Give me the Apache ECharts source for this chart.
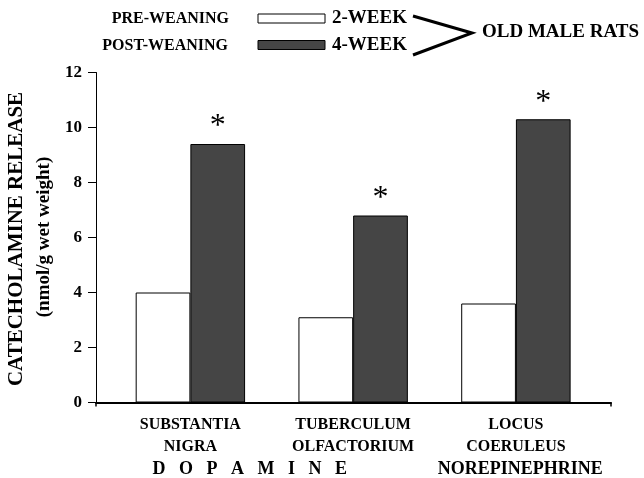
<!DOCTYPE html>
<html>
<head>
<meta charset="utf-8">
<script src="https://cdn.jsdelivr.net/npm/echarts@6/dist/echarts.min.js"></script>
<style>
html,body{margin:0;padding:0;background:#fff;}
#chart{width:644px;height:478px;}
</style>
</head>
<body>
<div id="chart"></div>
<script>
// ---- data ----
const categories = ['SUBSTANTIA\nNIGRA', 'TUBERCULUM\nOLFACTORIUM', 'LOCUS\nCOERULEUS'];
const week2Values = [4.0, 3.1, 3.6];
const week4Values = [9.4, 6.8, 10.3];
const seriesNames = ['2-WEEK', '4-WEEK'];
const legendPrefixes = ['PRE-WEANING', 'POST-WEANING'];
const legendGroupLabel = 'OLD MALE RATS';
const groupLabels = ['D   O   P   A   M   I   N   E', 'NOREPINEPHRINE'];
const significance = ['*', '*', '*'];
const yTitle = 'CATECHOLAMINE RELEASE';
const ySubtitle = '(nmol/g wet weight)';
const yMin = 0, yMax = 12, yInterval = 2;

// ---- styles ----
const SERIF = '"Liberation Serif", "DejaVu Serif", serif';
const DARK = '#454545';

const chart = echarts.init(document.getElementById('chart'), null, {renderer: 'canvas'});

const option = {
  backgroundColor: '#ffffff',
  animation: false,
  legend: {
    orient: 'vertical',
    left: 252.5,
    top: 4,
    itemWidth: 67,
    itemHeight: 9,
    itemGap: 7.5,
    icon: 'rect',
    selectedMode: false,
    textStyle: {fontFamily: SERIF, fontWeight: 'bold', fontSize: 19, color: '#000', padding: [0, 0, 0, 2]},
    data: [
      {name: seriesNames[0], itemStyle: {color: '#fff', borderColor: '#000', borderWidth: 1}},
      {name: seriesNames[1], itemStyle: {color: DARK, borderColor: '#000', borderWidth: 1}}
    ]
  },
  grid: [
    {left: 96, right: 33, top: 72.5, bottom: 75.5, containLabel: false},
    {left: 109, right: 46.7, top: 72.5, bottom: 75.5, containLabel: false}
  ],
  xAxis: [
    {
      gridIndex: 0, type: 'value', min: 0, max: 1, interval: 1,
      axisLine: {show: true, lineStyle: {color: '#000', width: 2}},
      axisTick: {show: true, inside: false, length: 4, lineStyle: {color: '#000', width: 1.5}},
      axisLabel: {show: false},
      splitLine: {show: false}
    },
    {
      gridIndex: 1, type: 'category', data: categories,
      axisLine: {show: false},
      axisTick: {show: false},
      axisLabel: {
        fontFamily: SERIF, fontWeight: 'bold', fontSize: 16, color: '#000',
        lineHeight: 21.7, margin: 12, interval: 0
      },
      splitLine: {show: false}
    }
  ],
  yAxis: [
    {
      gridIndex: 0, type: 'value', min: yMin, max: yMax, interval: yInterval,
      axisLine: {show: true, lineStyle: {color: '#000', width: 1}},
      axisTick: {show: true, inside: false, length: 8, lineStyle: {color: '#000', width: 1}},
      axisLabel: {fontFamily: SERIF, fontWeight: 'bold', fontSize: 17, color: '#000', margin: 14},
      splitLine: {show: false}
    },
    {
      gridIndex: 1, type: 'value', min: yMin, max: yMax, interval: yInterval, show: false,
      splitLine: {show: false}
    }
  ],
  series: [
    {
      name: seriesNames[0], type: 'bar', xAxisIndex: 1, yAxisIndex: 1,
      data: week2Values, barWidth: 54.7, barGap: '0%',
      itemStyle: {color: '#fff', borderColor: '#000', borderWidth: 1}
    },
    {
      name: seriesNames[1], type: 'bar', xAxisIndex: 1, yAxisIndex: 1,
      data: week4Values, barWidth: 54.7, barGap: '0%',
      itemStyle: {color: DARK, borderColor: '#000', borderWidth: 1},
      label: {
        show: true, position: 'top', distance: 1,
        formatter: (p) => significance[p.dataIndex],
        fontFamily: SERIF, fontSize: 32, color: '#000'
      }
    }
  ],
  graphic: [
    {type: 'text', x: 229, y: 19, style: {text: legendPrefixes[0], font: 'bold 16px ' + SERIF, fill: '#000', align: 'right', verticalAlign: 'middle'}},
    {type: 'text', x: 228, y: 46, style: {text: legendPrefixes[1], font: 'bold 16px ' + SERIF, fill: '#000', align: 'right', verticalAlign: 'middle'}},
    {type: 'text', x: 482, y: 32, style: {text: legendGroupLabel, font: 'bold 19px ' + SERIF, fill: '#000', align: 'left', verticalAlign: 'middle'}},
    {type: 'polyline', shape: {points: [[413, 16], [472, 33], [413, 55]]}, style: {stroke: '#000', lineWidth: 3, fill: null, lineJoin: 'miter'}},
    {type: 'text', x: 17, y: 239, rotation: Math.PI / 2, style: {text: yTitle, font: 'bold 21px ' + SERIF, fill: '#000', align: 'center', verticalAlign: 'middle'}},
    {type: 'text', x: 44, y: 237, rotation: Math.PI / 2, style: {text: ySubtitle, font: 'bold 19px ' + SERIF, fill: '#000', align: 'center', verticalAlign: 'middle'}},
    {type: 'text', x: 249.7, y: 469, style: {text: groupLabels[0], font: 'bold 18px ' + SERIF, fill: '#000', align: 'center', verticalAlign: 'middle'}},
    {type: 'text', x: 520.3, y: 469, style: {text: groupLabels[1], font: 'bold 18px ' + SERIF, fill: '#000', align: 'center', verticalAlign: 'middle'}}
  ]
};

chart.setOption(option);
</script>
</body>
</html>
